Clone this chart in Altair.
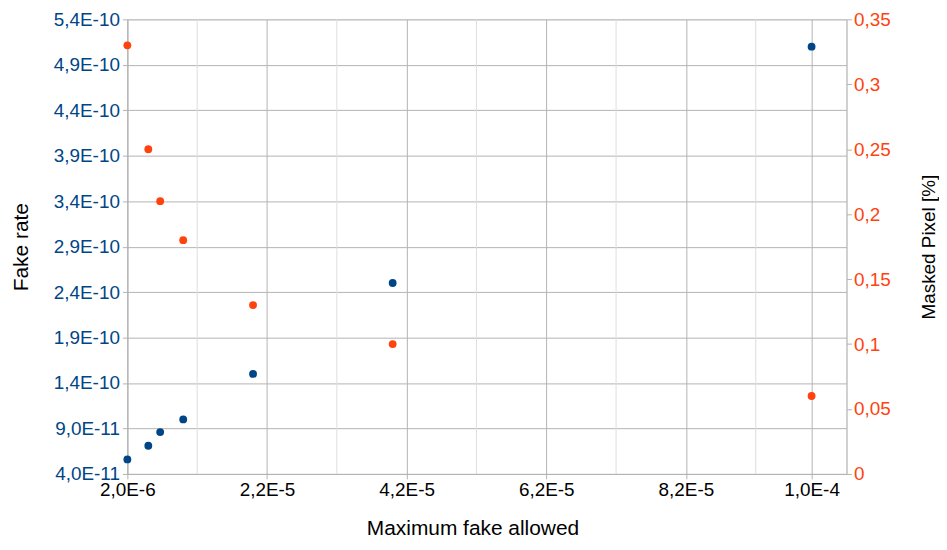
import altair as alt
import pandas as pd

# ---- data ----
max_fake_allowed = [2e-6, 5e-6, 6.7e-6, 1e-5, 2e-5, 4e-5, 1e-4]
fake_rate = [5.6e-11, 7.1e-11, 8.6e-11, 1.0e-10, 1.5e-10, 2.5e-10, 5.1e-10]
masked_pixel = [0.33, 0.25, 0.21, 0.18, 0.13, 0.10, 0.06]

x_ticks = [2e-6, 2.2e-5, 4.2e-5, 6.2e-5, 8.2e-5, 1.0e-4]
x_minor = [1.2e-5, 3.2e-5, 5.2e-5, 7.2e-5, 9.2e-5]
left_ticks = [4.0e-11, 9.0e-11, 1.4e-10, 1.9e-10, 2.4e-10, 2.9e-10,
              3.4e-10, 3.9e-10, 4.4e-10, 4.9e-10, 5.4e-10]
right_ticks = [0, 0.05, 0.1, 0.15, 0.2, 0.25, 0.3, 0.35]

df = pd.DataFrame({"x": max_fake_allowed, "fake": fake_rate, "masked": masked_pixel})
minor_df = pd.DataFrame({"x": x_minor})

FONT = "Liberation Sans"
BLUE = "#004586"
ORANGE = "#ff420e"
GRID = "#b3b3b3"

W, H = 723, 457

x_scale = alt.Scale(domain=[2e-6, 1.05e-4], nice=False, zero=False)

x_axis = alt.Axis(
    values=x_ticks, format=".1e",
    labelExpr="replace(upper(datum.label), '.', ',')",
    labelFont=FONT, labelFontSize=19, labelColor="#000000", labelPadding=2,
    tickSize=5, tickColor=GRID, domainColor=GRID, gridColor=GRID,
    grid=True, labelFlush=False,
    title="Maximum fake allowed", titleFont=FONT, titleFontSize=21,
    titleFontWeight="normal", titleColor="#000000",
    titleX=347, titleY=61, titleAlign="center", titleBaseline="alphabetic",
)

minor = alt.Chart(minor_df).mark_rule(color="#dedede", strokeWidth=1).encode(
    x=alt.X("x:Q", scale=x_scale, axis=x_axis)
)

left = alt.Chart(df).mark_circle(size=62, opacity=1, color=BLUE).encode(
    x=alt.X("x:Q", scale=x_scale, axis=x_axis),
    y=alt.Y("fake:Q",
            scale=alt.Scale(domain=[4e-11, 5.4e-10], nice=False, zero=False),
            axis=alt.Axis(
                values=left_ticks, format=".1e",
                labelExpr="replace(upper(datum.label), '.', ',')",
                labelFont=FONT, labelFontSize=19, labelColor=BLUE, labelPadding=3,
                tickSize=5, tickColor=GRID, domainColor=GRID, gridColor=GRID,
                grid=True, labelFlush=False,
                title="Fake rate", titleFont=FONT, titleFontSize=21,
                titleFontWeight="normal", titleColor="#000000",
                titleAngle=270, titleX=-106, titleY=H / 2,
                titleAlign="center", titleBaseline="middle",
            )),
)

right = alt.Chart(df).mark_circle(size=62, opacity=1, color=ORANGE).encode(
    x=alt.X("x:Q", scale=x_scale, axis=x_axis),
    y=alt.Y("masked:Q",
            scale=alt.Scale(domain=[0, 0.35], nice=False, zero=True),
            axis=alt.Axis(
                orient="right",
                values=right_ticks, format="~g",
                labelExpr="replace(datum.label, '.', ',')",
                labelFont=FONT, labelFontSize=19, labelColor=ORANGE, labelPadding=2,
                tickSize=5, tickColor=GRID, domainColor=GRID,
                grid=False, labelFlush=False,
                title="Masked Pixel [%]", titleFont=FONT, titleFontSize=19,
                titleFontWeight="normal", titleColor="#000000",
                titleAngle=270, titleX=82, titleY=H / 2,
                titleAlign="center", titleBaseline="middle",
            )),
)

chart = alt.layer(minor, left, right).resolve_scale(y="independent").properties(
    width=W, height=H,
    autosize=alt.AutoSizeParams(type="none"),
    padding={"left": 120, "top": 10, "right": 93, "bottom": 67},
).configure_view(stroke=None).configure(background="white")

chart.save("out.html", embed_options={"renderer": "svg", "actions": False})
